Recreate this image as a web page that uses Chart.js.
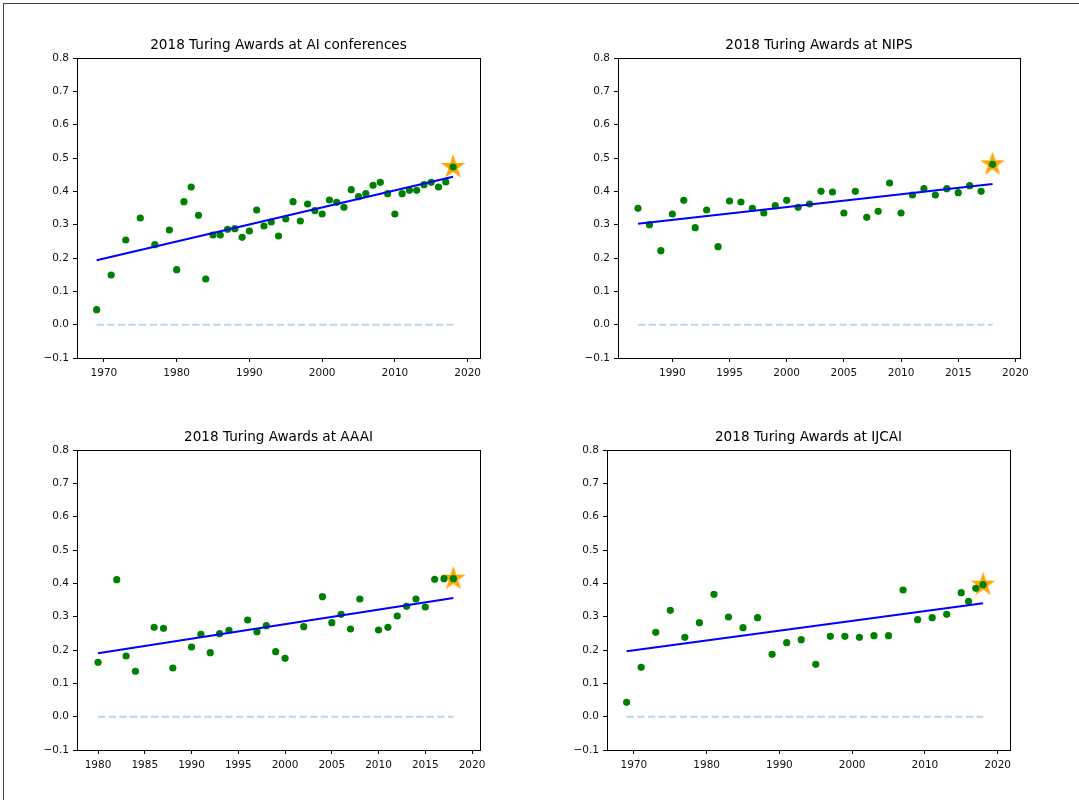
<!DOCTYPE html>
<html>
<head>
<meta charset="utf-8">
<script src="https://cdn.jsdelivr.net/npm/chart.js@4.4.1/dist/chart.umd.min.js"></script>
<style>
  html, body { margin: 0; padding: 0; background: #fff; overflow: hidden; }
  body { width: 1079px; height: 800px; position: relative; }
  #frame { position: absolute; left: 3px; top: 3px; right: 0; bottom: 0;
           border-left: 1px solid #444; border-top: 1px solid #444; }
  canvas { position: absolute; }
</style>
</head>
<body>
<div id="frame"></div>
<canvas id="c1" width="543" height="370" style="left:7px;top:18px"></canvas>
<canvas id="c2" width="542" height="370" style="left:548px;top:18px"></canvas>
<canvas id="c3" width="543" height="370" style="left:7px;top:410px"></canvas>
<canvas id="c4" width="543" height="370" style="left:537px;top:410px"></canvas>
<script>
// ---- data ----
const yearsAI = [1969, 1971, 1973, 1975, 1977, 1979, 1980, 1981, 1982, 1983, 1984, 1985, 1986, 1987, 1988, 1989, 1990,
  1991, 1992, 1993, 1994, 1995, 1996, 1997, 1998, 1999, 2000, 2001, 2002, 2003, 2004, 2005, 2006, 2007, 2008,
  2009, 2010, 2011, 2012, 2013, 2014, 2015, 2016, 2017, 2018]
const valuesAI = [0.045, 0.149, 0.254, 0.320, 0.240, 0.284, 0.165, 0.369, 0.413, 0.328, 0.137, 0.269, 0.269, 0.286, 0.288, 0.262, 0.281,
  0.344, 0.296, 0.308, 0.266, 0.317, 0.369, 0.311, 0.362, 0.342, 0.332, 0.374, 0.367, 0.352, 0.405, 0.384, 0.393, 0.418, 0.427,
  0.393, 0.332, 0.393, 0.403, 0.403, 0.420, 0.427, 0.413, 0.428, 0.473]
const fitAI = [0.193, 0.444]

const yearsNIPS = [1987, 1988, 1989, 1990, 1991, 1992, 1993, 1994, 1995, 1996, 1997, 1998, 1999, 2000, 2001, 2002,
  2003, 2004, 2005, 2006, 2007, 2008, 2009, 2010, 2011, 2012, 2013, 2014, 2015, 2016, 2017, 2018]
const valuesNIPS = [0.349, 0.300, 0.222, 0.332, 0.373, 0.291, 0.344, 0.234, 0.371, 0.368, 0.349, 0.335, 0.357, 0.373, 0.352, 0.362,
  0.400, 0.398, 0.335, 0.400, 0.322, 0.340, 0.425, 0.335, 0.389, 0.408, 0.389, 0.408, 0.396, 0.417, 0.400, 0.481]
const fitNIPS = [0.303, 0.422]

const yearsAAAI = [1980, 1982, 1983, 1984, 1986, 1987, 1988, 1990, 1991, 1992, 1993, 1994, 1996, 1997, 1998, 1999, 2000,
  2002, 2004, 2005, 2006, 2007, 2008, 2010, 2011, 2012, 2013, 2014, 2015, 2016, 2017, 2018]
const valuesAAAI = [0.163, 0.411, 0.182, 0.136, 0.268, 0.265, 0.146, 0.209, 0.247, 0.192, 0.249, 0.259, 0.290, 0.255, 0.273, 0.195, 0.175,
  0.270, 0.360, 0.282, 0.307, 0.263, 0.353, 0.260, 0.268, 0.302, 0.331, 0.353, 0.329, 0.412, 0.414, 0.414]
const fitAAAI = [0.190, 0.356]

const yearsIJCAI = [1969, 1971, 1973, 1975, 1977, 1979, 1981, 1983, 1985, 1987, 1989, 1991, 1993, 1995, 1997, 1999, 2001,
  2003, 2005, 2007, 2009, 2011, 2013, 2015, 2016, 2017, 2018]
const valuesIJCAI = [0.043, 0.148, 0.253, 0.319, 0.238, 0.282, 0.367, 0.299, 0.267, 0.297, 0.187, 0.222, 0.231, 0.157, 0.241, 0.241, 0.238,
  0.243, 0.243, 0.380, 0.291, 0.297, 0.307, 0.372, 0.346, 0.385, 0.396]
const fitIJCAI = [0.196, 0.340]

const yTicks = [-0.1, 0.0, 0.1, 0.2, 0.3, 0.4, 0.5, 0.6, 0.7, 0.8]
const xTicks70 = [1970, 1980, 1990, 2000, 2010, 2020]
const xTicksNIPS = [1990, 1995, 2000, 2005, 2010, 2015, 2020]
const xTicksAAAI = [1980, 1985, 1990, 1995, 2000, 2005, 2010, 2015, 2020]

const FONT = 'DejaVu Sans'

// filled five-point star used as the marker for the latest year
function starImage(r) {
  const size = Math.ceil(r * 2 + 4)
  const c = document.createElement('canvas')
  c.width = size; c.height = size
  const g = c.getContext('2d')
  g.beginPath()
  for (let i = 0; i < 10; i++) {
    const rad = i % 2 === 0 ? r : r * 0.382
    const a = -Math.PI / 2 + i * Math.PI / 5
    const px = size / 2 + rad * Math.cos(a), py = size / 2 + rad * Math.sin(a)
    if (i === 0) g.moveTo(px, py); else g.lineTo(px, py)
  }
  g.closePath()
  g.fillStyle = '#ffa500'
  g.fill()
  return c
}
const star = starImage(13)

const frame = {
  id: 'frame',
  afterDraw(chart) {
    const a = chart.chartArea, ctx = chart.ctx
    ctx.save()
    ctx.strokeStyle = '#000'
    ctx.lineWidth = 1
    ctx.strokeRect(Math.round(a.left) + 0.5, Math.round(a.top) + 0.5, Math.round(a.right - a.left), Math.round(a.bottom - a.top))
    ctx.restore()
  }
}

function panel(id, title, years, values, fit, xMin, xMax, xTicks) {
  const first = years[0], last = years[years.length - 1]
  const pts = years.map((yr, i) => ({ x: yr, y: values[i] }))
  new Chart(document.getElementById(id), {
    type: 'scatter',
    data: {
      datasets: [
        { type: 'line', data: [{ x: first, y: fit[0] }, { x: last, y: fit[1] }],
          borderColor: '#0000ff', borderWidth: 2, pointRadius: 0, order: 0 },
        { data: pts, backgroundColor: '#008000', borderWidth: 0, pointRadius: 3.6, order: 1 },
        { type: 'line', data: [{ x: first, y: 0 }, { x: last, y: 0 }],
          borderColor: 'rgba(31,119,180,0.3)', borderWidth: 2, borderDash: [7.4, 3.2], pointRadius: 0, order: 2 },
        { data: [{ x: last, y: values[values.length - 1] }], pointStyle: star, pointRadius: 13, order: 3 }
      ]
    },
    options: {
      responsive: false,
      animation: false,
      events: [],
      layout: { padding: { left: 0, right: 70, top: 0, bottom: 0 } },
      plugins: {
        legend: { display: false },
        tooltip: { enabled: false },
        title: {
          display: true, text: title, color: '#000', fullSize: false,
          font: { family: FONT, size: 13.6, weight: 'normal', lineHeight: '14px' },
          padding: { top: 20, bottom: 6 }
        }
      },
      scales: {
        x: {
          type: 'linear', min: xMin, max: xMax,
          afterBuildTicks: s => { s.ticks = xTicks.map(v => ({ value: v })) },
          afterFit: s => { s.height = 30 },
          grid: { drawOnChartArea: false, drawTicks: true, tickLength: 4, color: '#000' },
          border: { display: false },
          ticks: { color: '#111', padding: 5, maxRotation: 0, font: { family: FONT, size: 10.5 },
                   callback: v => String(v) }
        },
        y: {
          min: -0.1, max: 0.8,
          afterBuildTicks: s => { s.ticks = yTicks.map(v => ({ value: v })) },
          afterFit: s => { s.width = 70 },
          grid: { drawOnChartArea: false, drawTicks: true, tickLength: 4, color: '#000' },
          border: { display: false },
          ticks: { color: '#111', padding: 4, font: { family: FONT, size: 10.5 },
                   callback: v => (v < -1e-9 ? '\u2212' : '') + Math.abs(v).toFixed(1) }
        }
      }
    },
    plugins: [frame]
  })
}

panel('c1', '2018 Turing Awards at AI conferences', yearsAI, valuesAI, fitAI, 1966.3, 2021.7, xTicks70)
panel('c2', '2018 Turing Awards at NIPS', yearsNIPS, valuesNIPS, fitNIPS, 1985.25, 2020.4, xTicksNIPS)
panel('c3', '2018 Turing Awards at AAAI', yearsAAAI, valuesAAAI, fitAAAI, 1977.75, 2020.85, xTicksAAAI)
panel('c4', '2018 Turing Awards at IJCAI', yearsIJCAI, valuesIJCAI, fitIJCAI, 1966.3, 2021.7, xTicks70)
</script>
</body>
</html>
